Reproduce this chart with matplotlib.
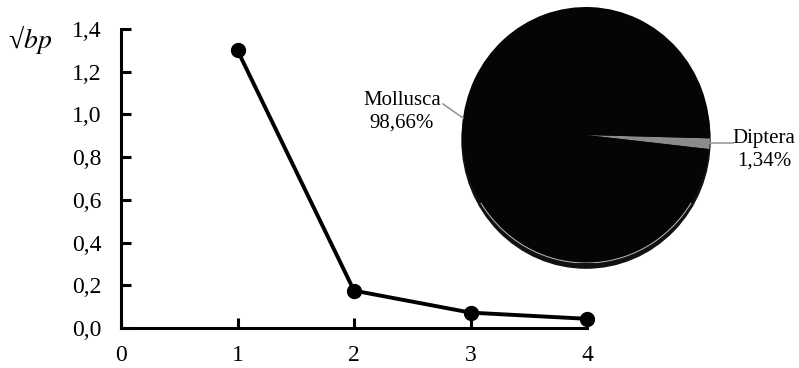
import numpy as np
import matplotlib
matplotlib.use("Agg")
import matplotlib.pyplot as plt
from matplotlib.patches import Arc
from matplotlib.ticker import FuncFormatter, MultipleLocator

plt.rcParams["font.family"] = ["Liberation Serif", "DejaVu Serif"]
plt.rcParams["mathtext.fontset"] = "stix"

# rank curve
ranks = [1, 2, 3, 4]
sqrt_bp = [1.30, 0.175, 0.072, 0.043]

# composition inset
taxa = ["Mollusca", "Diptera"]
shares = [98.66, 1.34]
pie_colors = ["#050505", "#8c8c8c"]

FS = 15
TICK_FS = 17
W, H = 799, 368


def comma(v, _):
    return f"{v:.1f}".replace(".", ",")


fig = plt.figure(figsize=(W / 100, H / 100), dpi=100)
ax = fig.add_axes([121 / W, 1 - 328 / H, 466 / W, 299 / H])
ax.plot(ranks, sqrt_bp, color="black", lw=2.8, marker="o", ms=10,
        clip_on=False, zorder=3)
ax.set_xlim(0, 4)
ax.set_ylim(0, 1.4)
ax.xaxis.set_major_locator(MultipleLocator(1))
ax.yaxis.set_major_locator(MultipleLocator(0.2))
ax.yaxis.set_major_formatter(FuncFormatter(comma))
for s in ("top", "right"):
    ax.spines[s].set_visible(False)
for s in ("left", "bottom"):
    ax.spines[s].set_linewidth(2.2)
ax.tick_params(direction="in", length=7, width=2.2, labelsize=TICK_FS)
ax.tick_params(axis="y", pad=14)
ax.tick_params(axis="x", pad=12)
fig.text(8 / W, 1 - 40 / H, "√$bp$", fontsize=20, va="center", ha="left")

# pie inset, drawn with a dark rim shifted down for the 3D look
pax = fig.add_axes([462 / W, 1 - 263 / H, 248 / W, 256 / H])
pax.add_patch(plt.Circle((0, -0.04), 1.0, color="#111111", zorder=0, clip_on=False))
wedges, _ = pax.pie(shares[::-1], colors=pie_colors[::-1], startangle=-1.5,
                    counterclock=False, radius=1.0,
                    wedgeprops=dict(linewidth=0))
for w in wedges:
    w.set_zorder(1)
pax.add_patch(Arc((0, 0), 2.0, 2.0, theta1=212, theta2=328, color="#bbbbbb",
                  lw=0.7, zorder=2))
pax.set_xlim(-1, 1)
pax.set_ylim(-1, 1)
pax.set_aspect("auto")
pax.axis("off")


def px(x, y):
    return ((x - 586) / 124, (135 - y) / 128)


# leader lines and labels
for (x0, y0), (x1, y1) in [((443, 104), (463, 118)), ((710, 143), (733, 143))]:
    a, b = px(x0, y0), px(x1, y1)
    pax.plot([a[0], b[0]], [a[1], b[1]], color="#999999", lw=1.2, clip_on=False)

mx, my = px(402, 112)
pax.text(mx, my, f"{taxa[0]}\n{shares[0]:.2f}%".replace(".", ","), fontsize=FS,
         ha="center", va="center", linespacing=1.25)
dx, dy = px(764, 150)
pax.text(dx, dy, f"{taxa[1]}\n{shares[1]:.2f}%".replace(".", ","), fontsize=FS,
         ha="center", va="center", linespacing=1.25)

fig.savefig("out.png", dpi=100)
